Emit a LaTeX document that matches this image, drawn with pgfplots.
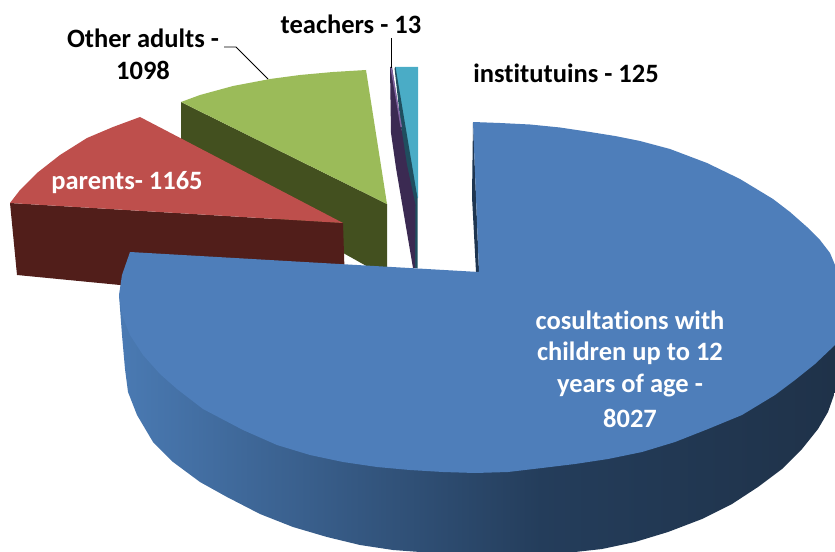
\documentclass[border=0pt]{standalone}
\usepackage{pgfplots}
\pgfplotsset{compat=1.18}
\usepackage{fontspec}
\setmainfont[Ligatures=NoCommon]{Carlito}
\definecolor{bluetop}{HTML}{4E7EBA}
\definecolor{sidea}{HTML}{4A7AB3}
\definecolor{sideb}{HTML}{243D5B}
\definecolor{sidec}{HTML}{1F3249}
\definecolor{bluedark}{HTML}{1E3550}
\definecolor{redtop}{HTML}{BE4F4C}
\definecolor{redside}{HTML}{511E1A}
\definecolor{greentop}{HTML}{9BBB59}
\definecolor{greenside}{HTML}{43501F}
\definecolor{purptop}{HTML}{7F64A0}
\definecolor{purpside}{HTML}{3B2A52}
\definecolor{cyantop}{HTML}{4AACC6}
\definecolor{cyanside}{HTML}{1F4E5F}
\tikzset{lab/.style={font=\fontsize{26.5bp}{26.5bp}\selectfont\bfseries,inner sep=0pt}}
\begin{document}
\begin{tikzpicture}
\begin{axis}[scale only axis,width=835bp,height=552bp,xmin=0,xmax=835,ymin=0,ymax=552,y dir=reverse,axis lines=none,clip=true]
\path (axis cs:0,0) rectangle (axis cs:835,552);
% cyan
\addplot[draw=none,fill=cyantop] coordinates {(395,67)(418,67)(418,198)(417,198)} -- cycle;
\addplot[draw=none,fill=cyanside] coordinates {(394.5,68)(395.5,67)(417.5,198)(417.5,268)(415,268)(413,235)} -- cycle;
% purple
\addplot[draw=none,fill=purpside] coordinates {(390,67)(391,133)(396,168)(413,268)(415,268)(415.5,205)(407,165)(392,67)} -- cycle;
\addplot[draw=none,fill=purptop] coordinates {(390.5,68)(392,68)(402,127)(400.5,127)} -- cycle;
% green
\addplot[draw=none,fill=greenside] coordinates {(181,102)(387,204)(387,268)(370,268)(345,254)(181,170)} -- cycle;
\addplot[draw=none,fill=greentop] coordinates {(181,102)(200,95)(233,86)(270,79)(300,75)(333,72)(366,70)(387,204)} -- cycle;
% red
\addplot[draw=none,fill=redside] coordinates {(10,203)(343,223)(345,285)(120,285)(17,275)} -- cycle;
\addplot[draw=none,fill=redtop] coordinates {(140,117)(113,127)(87,138)(60,155)(37,173)(20,190)(10,203)(343,223)} -- cycle;
% blue side, left part
\addplot[draw=none,left color=sidea,right color=sideb] coordinates {(119,295)(122,335)(125,369)(128,392)(137,415)(153,442)(173,462)(200,482)(227,497)(260,514)(293,527)(327,537)(360,545)(393,550)(420,552)(480,556)(541,556)(541,400)(300,400)} -- cycle;
% blue side, right part
\addplot[draw=none,left color=sideb,right color=sidec] coordinates {(540,400)(540,556)(575,552)(602,549)(635,542)(668,532)(702,519)(732,504)(758,487)(782,469)(802,449)(818,429)(828,412)(835,392)(835,340)(700,400)} -- cycle;
% blue inner
\addplot[draw=none,fill=bluedark] coordinates {(473,122)(472,197)(476,272)(479,272)} -- cycle;
% blue top
\addplot[draw=none,fill=bluetop] coordinates {(473,122)(500,123)(530,124.5)(560,127.5)(590,132)(615,136)(640,141)(670,149)(707,163)(740,179)(773,199)(790,212)(807,227)(820,240)(830,253)(835,265)(842,285)(845,305)(842,325)(835,345)(815,364)(795,380)(775,395)(742,415)(708,429)(675,442)(642,452)(608,459)(575,464)(542,468)(508,472)(475,473)(443,472)(410,470)(377,467)(343,462)(310,455)(277,445)(243,430)(203,409)(177,389)(160,374)(143,355)(130,335)(122,315)(119,295)(122,275)(130,252)(479,272)} -- cycle;
% leaders
\addplot[black,line width=1pt] coordinates {(224,47)(236,47)(268,79)};
\addplot[black,line width=1pt] coordinates {(391,38)(391,68)};
% labels
\node[lab] at (axis cs:351,24) {teachers - 13};
\node[lab] at (axis cs:143,38) {Other adults -};
\node[lab] at (axis cs:143,70) {1098};
\node[lab] at (axis cs:566,73) {institutuins - 125};
\node[lab,white] at (axis cs:127,183) {parents- 1165};
\node[lab,white] at (axis cs:630,320) {cosultations with};
\node[lab,white] at (axis cs:630,353) {children up to 12};
\node[lab,white] at (axis cs:630,386) {years of age -};
\node[lab,white] at (axis cs:630,418) {8027};
\end{axis}
\end{tikzpicture}
\end{document}
